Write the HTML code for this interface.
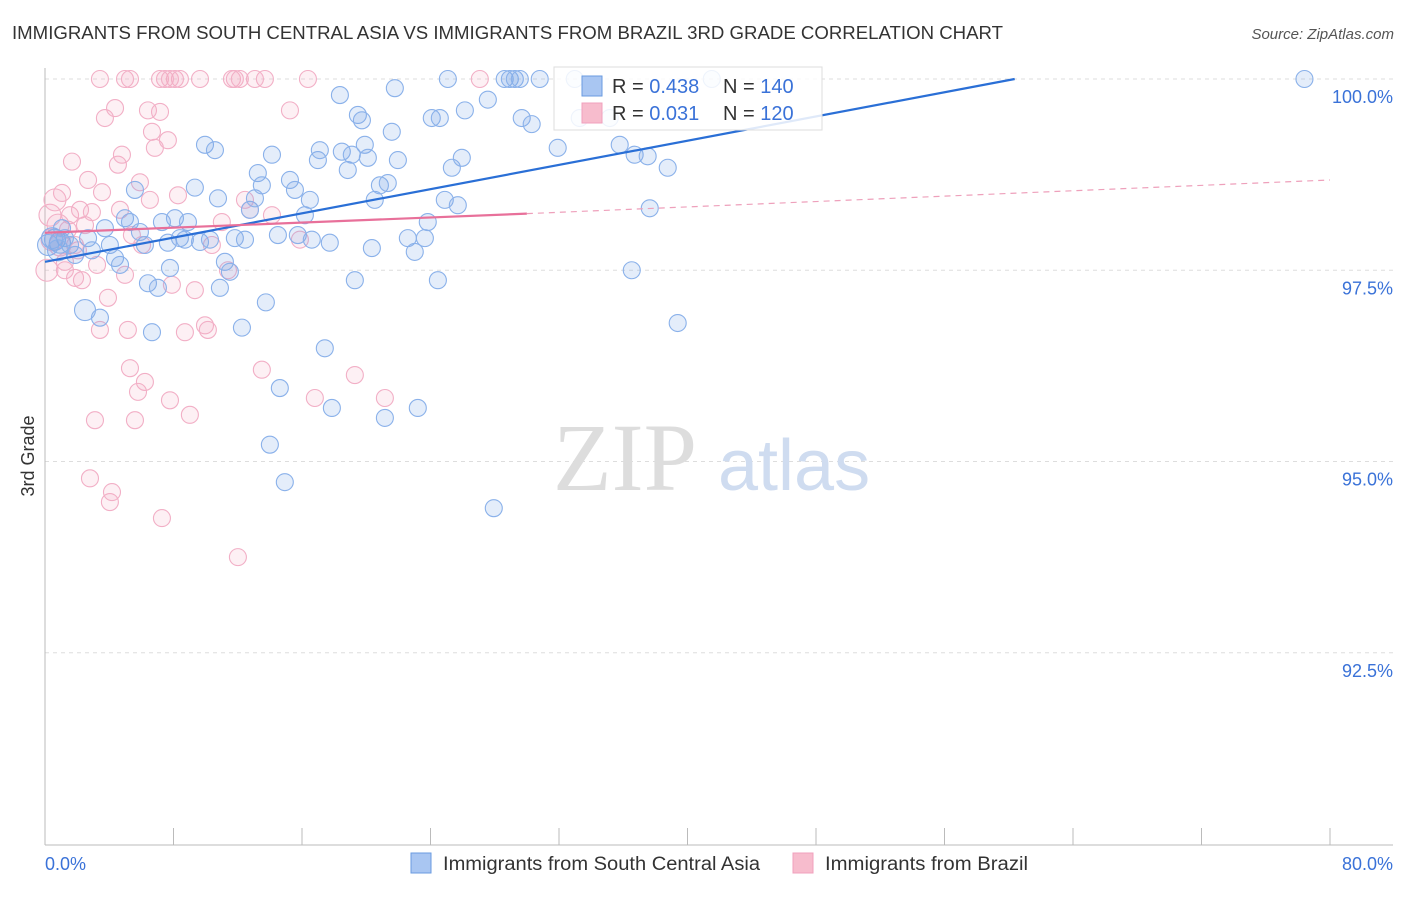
<!DOCTYPE html>
<html><head><meta charset="utf-8"><style>
body{margin:0;background:#fff;font-family:"Liberation Sans",sans-serif;}
svg text{font-family:"Liberation Sans",sans-serif;}
</style></head><body>
<svg id="chart" width="1406" height="892" xmlns="http://www.w3.org/2000/svg">
<text x="12" y="39" font-size="18" fill="#333" textLength="991" lengthAdjust="spacingAndGlyphs">IMMIGRANTS FROM SOUTH CENTRAL ASIA VS IMMIGRANTS FROM BRAZIL 3RD GRADE CORRELATION CHART</text>
<text x="1394" y="39" font-size="15" fill="#555" font-style="italic" text-anchor="end">Source: ZipAtlas.com</text>
<g id="grid"></g>
<g><text x="553" y="490" font-size="96" fill="#ddd" font-family="Liberation Serif" style="font-family:'Liberation Serif',serif">ZIP</text><text x="718" y="490" font-size="72" fill="#cfdcf0">atlas</text></g>
<text x="34" y="456" font-size="18" fill="#333" transform="rotate(-90 34 456)" text-anchor="middle">3rd Grade</text>
<g id="axes"></g>
<g id="pts"></g>
<g id="trends"></g>
<g>
<rect x="554" y="67" width="268" height="63" fill="#fff" fill-opacity="0.85" stroke="#ddd"/>
<rect x="582" y="76" width="20" height="20" fill="#a9c6f2" stroke="#6a9be0"/>
<rect x="582" y="103" width="20" height="20" fill="#f7bccd" stroke="#f0a0bd"/>
<text x="612" y="93" font-size="20" fill="#333">R = <tspan fill="#3a72d8">0.438</tspan></text>
<text x="723" y="93" font-size="20" fill="#333">N = <tspan fill="#3a72d8">140</tspan></text>
<text x="612" y="120" font-size="20" fill="#333">R = <tspan fill="#3a72d8"> 0.031</tspan></text>
<text x="723" y="120" font-size="20" fill="#333">N = <tspan fill="#3a72d8">120</tspan></text>
</g>
<g>
<rect x="411" y="853" width="20" height="20" fill="#a9c6f2" stroke="#6a9be0"/>
<text x="443" y="870" font-size="19" fill="#333" textLength="317" lengthAdjust="spacingAndGlyphs">Immigrants from South Central Asia</text>
<rect x="793" y="853" width="20" height="20" fill="#f7bccd" stroke="#f0a0bd"/>
<text x="825" y="870" font-size="19" fill="#333" textLength="203" lengthAdjust="spacingAndGlyphs">Immigrants from Brazil</text>
</g>
</svg>
<script>
const yTicks=[100,97.5,95,92.5];
const yTickLabels=["100.0%","97.5%","95.0%","92.5%"];
const xEndLabels=["0.0%","80.0%"];
const blueX=[0.62,0.93,1.24,1.56,1.87,2.49,3.42,3.73,4.04,4.36,4.67,4.98,5.29,5.60,5.91,6.22,6.41,6.66,7.03,7.28,7.65,7.78,8.09,8.40,8.71,8.90,9.33,9.65,9.96,10.27,10.58,10.77,10.89,11.20,11.51,11.82,12.26,12.45,12.76,13.07,13.25,13.50,13.75,14.00,14.13,14.50,14.62,14.93,15.25,15.56,15.74,16.18,16.49,16.61,16.99,17.11,17.42,17.73,17.86,18.36,18.48,18.85,19.10,19.29,19.48,19.73,19.91,20.10,20.35,20.53,20.85,21.16,21.34,21.59,21.78,21.97,22.59,23.02,23.21,23.65,23.83,24.08,24.46,24.58,24.89,25.08,25.33,25.70,25.95,26.14,27.57,27.94,28.62,28.94,29.25,29.56,29.68,30.30,30.80,31.92,32.98,33.29,35.16,35.78,36.53,36.71,37.52,37.65,38.77,39.39,41.51,78.41,0.19,0.44,0.81,1.06,2.68,2.92];
const blueY=[97.90,97.86,97.92,97.83,97.70,96.98,96.88,98.05,97.83,97.66,97.57,98.18,98.13,98.55,98.00,97.83,97.33,96.69,97.27,98.13,97.86,97.53,98.18,97.92,97.90,98.13,98.58,97.87,99.14,97.90,99.07,98.44,97.27,97.61,97.48,97.92,96.75,97.90,98.29,98.44,98.77,98.61,97.08,95.22,99.01,97.96,95.96,94.73,98.68,98.55,97.96,98.22,98.42,97.90,98.94,99.07,96.48,97.86,95.70,99.79,99.05,98.81,99.01,97.37,99.53,99.46,99.14,98.97,97.79,98.42,98.61,95.57,98.64,99.31,99.88,98.94,97.92,97.74,95.70,97.92,98.13,99.49,97.37,99.49,98.42,100,98.84,98.35,98.97,99.59,99.73,94.39,100,100,100,100,99.49,99.41,100,99.10,100,99.49,99.49,99.14,97.50,99.01,98.99,98.31,98.84,96.81,100,100,97.83,97.92,97.76,98.05,97.92,97.76];
const pinkX=[0.12,0.31,0.44,0.62,0.81,1.06,1.24,1.43,1.56,1.68,1.87,2.05,2.18,2.49,2.68,2.80,2.92,3.11,3.24,3.42,3.55,3.73,3.92,4.04,4.17,4.36,4.54,4.67,4.79,4.98,5.16,5.29,5.41,5.60,5.79,5.91,6.04,6.22,6.41,6.53,6.66,6.84,7.16,7.28,7.65,7.78,7.90,8.09,8.28,8.40,8.71,9.02,9.33,9.65,9.96,10.14,10.39,11.01,11.39,11.64,11.82,12.01,12.13,12.45,12.76,13.50,13.69,14.13,15.25,15.87,16.37,16.80,19.29,21.16,27.07,0.93,1.24,1.87,2.30,3.42,4.98,5.29,7.16,7.47,7.78,13.07];
const pinkY=[97.50,98.22,97.90,98.42,98.09,98.51,97.50,98.03,98.22,98.92,97.40,97.76,98.29,98.09,98.68,94.78,98.26,95.54,97.57,96.72,98.52,99.49,97.14,94.47,94.60,99.62,98.88,98.29,99.01,97.44,96.72,96.22,97.96,95.54,95.91,98.65,97.83,96.04,99.59,98.42,99.31,99.10,99.57,94.26,99.20,95.80,97.31,100,98.48,100,96.69,95.61,97.24,100,96.78,96.72,97.83,98.13,97.50,100,100,93.75,100,98.42,98.29,96.20,100,98.22,99.59,97.90,100,95.83,96.13,95.83,100,97.83,97.61,97.83,97.37,100,100,100,100,100,100,100];
const blueTrend=[0,97.61,60.37,100];
const pinkTrend=[0,97.99,30,98.24,80,98.68];
const NS="http://www.w3.org/2000/svg";
const xs=v=>45+v*16.0625;
const ys=v=>79+(100-v)*76.5;
function mk(tag,attrs,parent){const e=document.createElementNS(NS,tag);for(const k in attrs)e.setAttribute(k,attrs[k]);parent.appendChild(e);return e;}
const grid=document.getElementById('grid'),axes=document.getElementById('axes'),pts=document.getElementById('pts'),tr=document.getElementById('trends');
yTicks.forEach((t,i)=>{
 const l=mk('line',{x1:45,x2:1393,y1:ys(t),y2:ys(t),stroke:'#ddd','stroke-dasharray':'4,4'},grid);
 
 
 const tx=mk('text',{x:1393,y:ys(t)+24,'font-size':18,fill:'#3a72d8','text-anchor':'end'},axes);
 tx.textContent=yTickLabels[i];
 
 
});
const xa=mk('line',{x1:45,x2:1393,y1:845,y2:845,stroke:'#bbb'},axes);


const ya=mk('line',{x1:45,x2:45,y1:68,y2:845,stroke:'#bbb'},axes);


for(let v=0;v<=80;v+=8){
 const tk=mk('line',{x1:xs(v),x2:xs(v),y1:828,y2:845,stroke:'#bbb'},axes);
 
 
}
const l0=mk('text',{x:45,y:870,'font-size':18,fill:'#3a72d8'},axes);l0.textContent=xEndLabels[0];


const l1=mk('text',{x:1393,y:870,'font-size':18,fill:'#3a72d8','text-anchor':'end'},axes);l1.textContent=xEndLabels[1];


pinkX.forEach((x,i)=>{
 const c=mk('circle',{cx:xs(x),cy:ys(pinkY[i]),r:x<1?11:8.5,fill:'rgba(244,170,196,0.18)',stroke:'#f2afc6','stroke-width':1.1},pts);
 
 
});
blueX.forEach((x,i)=>{
 const c=mk('circle',{cx:xs(x),cy:ys(blueY[i]),r:(x<1||x===2.49)?10.5:8.5,fill:'rgba(120,165,232,0.2)',stroke:'#8ab1ea','stroke-width':1.1},pts);
 
 
});
const bl=mk('line',{x1:xs(blueTrend[0]),y1:ys(blueTrend[1]),x2:xs(blueTrend[2]),y2:ys(blueTrend[3]),stroke:'#2a6fd6','stroke-width':2.2},tr);


const pl=mk('line',{x1:xs(pinkTrend[0]),y1:ys(pinkTrend[1]),x2:xs(pinkTrend[2]),y2:ys(pinkTrend[3]),stroke:'#e8709a','stroke-width':2.2},tr);


const pd=mk('line',{x1:xs(pinkTrend[2]),y1:ys(pinkTrend[3]),x2:xs(pinkTrend[4]),y2:ys(pinkTrend[5]),stroke:'#eea0bb','stroke-width':1.2,'stroke-dasharray':'6,5'},tr);


</script>
</body></html>
